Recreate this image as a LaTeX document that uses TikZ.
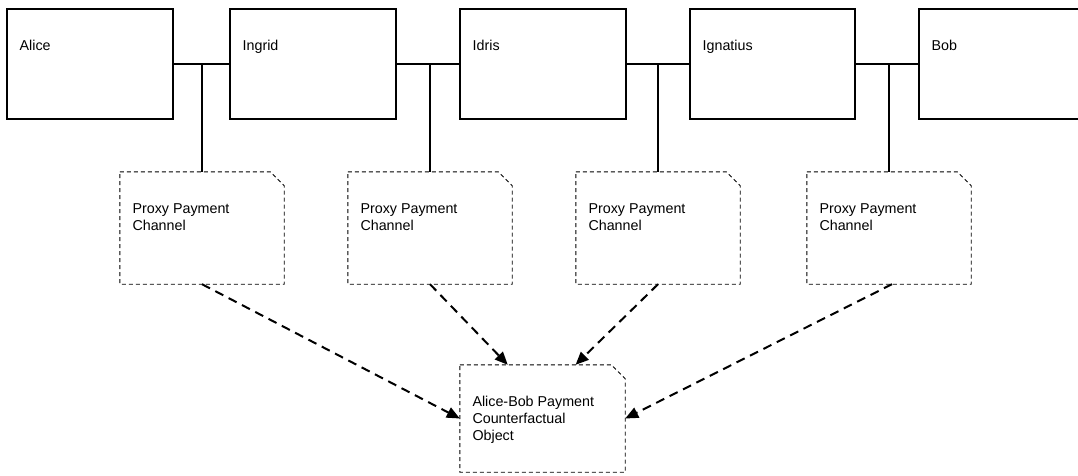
\documentclass[tikz,border=0pt]{standalone}
\usepackage{fontspec}
\setmainfont{Liberation Sans}
\usetikzlibrary{arrows.meta,calc}

\tikzset{
  party/.style={draw=black, line width=1.1pt, rectangle, inner sep=0pt,
    minimum width=166pt, minimum height=110pt},
  note/.style={rectangle, inner sep=0pt, minimum width=164pt, minimum height=112pt},
  noteline/.style={draw=black, line width=0.9pt, dash pattern=on 4pt off 3pt},
  lbl/.style={inner sep=0pt, align=left, anchor=base west,
    font=\fontsize{14.3}{17}\selectfont},
  link/.style={draw=black, line width=1.7pt},
  flow/.style={draw=black, line width=2pt, dash pattern=on 9pt off 6pt,
    -{Triangle[length=13pt,width=11pt]}},
}

\begin{document}
\begin{tikzpicture}[x=1pt, y=-1pt]
\useasboundingbox (0,0) rectangle (1078,476);
\clip (0,0) rectangle (1078,476);

% participants along the route
\node[party] (alice)    at (90,64)    {};
\node[party] (ingrid)   at (313,64)   {};
\node[party] (idris)    at (543,64)   {};
\node[party, minimum width=165pt] (ignatius) at (772.5,64) {};
\node[party] (bob)      at (1002,64)  {};

\foreach \n/\t in {alice/Alice, ingrid/Ingrid, idris/Idris, ignatius/Ignatius, bob/Bob}
  \node[lbl] (\n-t) at ([shift={(13,42)}]\n.north west) {\t};

% channel links and their junction points
\coordinate (j1) at ($(alice.east)!0.5!(ingrid.west)+(0.5,0)$);
\coordinate (j2) at ($(ingrid.east)!0.5!(idris.west)+(2,0)$);
\coordinate (j3) at ($(idris.east)!0.5!(ignatius.west)$);
\coordinate (j4) at ($(ignatius.east)!0.5!(bob.west)+(2,0)$);

% proxy payment channels
\node[note] (p1) at (j1 |- 0,228) {};
\node[note] (p2) at (j2 |- 0,228) {};
\node[note] (p3) at (j3 |- 0,228) {};
\node[note] (p4) at (j4 |- 0,228) {};

% counterfactual object
\node[note, minimum width=165pt, minimum height=107pt] (cf) at (542.5,418.5) {};

% note outlines with a cut top-right corner
\foreach \n in {p1,p2,p3,p4,cf}
  \draw[noteline] (\n.north west) -- ([xshift=-14pt]\n.north east)
    -- ([yshift=-14pt]\n.north east) -- (\n.south east) -- (\n.south west) -- cycle;

% multi-line labels sit on the baseline of their last line
\foreach \n in {p1,p2,p3,p4}
  \node[lbl] (\n-t) at ([shift={(12.5,59)}]\n.north west) {Proxy Payment\\Channel};
\node[lbl] (cf-t) at ([shift={(12.5,76)}]cf.north west)
  {Alice-Bob Payment\\Counterfactual\\Object};

% solid channel connectors
\draw[link] (alice.east) -- (ingrid.west);
\draw[link] (ingrid.east) -- (idris.west);
\draw[link] (idris.east) -- (ignatius.west);
\draw[link] (ignatius.east) -- (bob.west);
\foreach \j/\p in {j1/p1, j2/p2, j3/p3, j4/p4}
  \draw[link] (\j) -- (\j |- \p.north);

% dashed dependencies onto the counterfactual object
\coordinate (cfa) at ($(cf.north west)!0.29!(cf.north east)$);
\coordinate (cfb) at ($(cf.north west)!0.70!(cf.north east)$);
\draw[flow] (p1.south) -- (cf.west);
\draw[flow] (p2.south) -- (cfa);
\draw[flow] (p3.south) -- (cfb);
\draw[flow] ([xshift=3pt]p4.south) -- (cf.east);
\end{tikzpicture}
\end{document}
